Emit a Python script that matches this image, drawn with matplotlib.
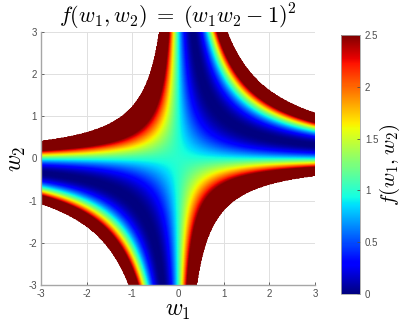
import numpy as np
import matplotlib
matplotlib.use("Agg")
import matplotlib.pyplot as plt

plt.rcParams['mathtext.fontset'] = 'cm'
plt.rcParams['font.family'] = ['Liberation Sans', 'DejaVu Sans']

# grid and display settings
w_lim = [-3, 3]
n_pts = 401
f_cut = 5.0          # values above this are left blank (white)
c_lim = [0, 2.5]
xticks = [-3, -2, -1, 0, 1, 2, 3]
yticks = [-3, -2, -1, 0, 1, 2, 3]
cticks = [0, 0.5, 1, 1.5, 2, 2.5]

w1 = np.linspace(w_lim[0], w_lim[1], n_pts)
w2 = np.linspace(w_lim[0], w_lim[1], n_pts)
W1, W2 = np.meshgrid(w1, w2)
F = (W1 * W2 - 1) ** 2
F = np.ma.masked_where(F > f_cut, F)

fig = plt.figure(figsize=(4.05, 3.29), dpi=100)
ax = fig.add_axes([0.101, 0.134, 0.677, 0.769])
cax = fig.add_axes([0.842, 0.106, 0.047, 0.788])

im = ax.pcolormesh(W1, W2, F, cmap='jet', vmin=c_lim[0], vmax=c_lim[1],
                   shading='gouraud', zorder=2)
ax.set_xlim(w_lim)
ax.set_ylim(w_lim)
ax.set_xticks(xticks)
ax.set_yticks(yticks)
ax.set_xticklabels([str(t) for t in xticks])
ax.set_yticklabels([str(t) for t in yticks])
ax.grid(True, color='0.88', linewidth=0.7, zorder=0)
ax.set_axisbelow(True)
ax.tick_params(direction='in', length=2.5, labelsize=7, colors='0.3',
               width=0.6, pad=3)
for s in ['top', 'right']:
    ax.spines[s].set_visible(False)
for s in ['left', 'bottom']:
    ax.spines[s].set_color('0.65')
    ax.spines[s].set_linewidth(1.0)

ax.set_title(r'$f(w_1,w_2)\;=\;(w_1 w_2 - 1)^2$', fontsize=16, pad=3)
ax.set_xlabel(r'$w_1$', fontsize=17, labelpad=1)
ax.set_ylabel(r'$w_2$', fontsize=17, labelpad=0)

cb = fig.colorbar(im, cax=cax, ticks=cticks)
cb.ax.set_yticklabels([f'{t:g}' for t in cticks])
cb.ax.tick_params(direction='in', length=2.5, labelsize=7, colors='0.3', width=0.6)
cb.outline.set_edgecolor('0.65')
cb.outline.set_linewidth(0.6)
cb.set_label(r'$f(w_1,w_2)$', fontsize=15, labelpad=0)

fig.savefig('out.png', dpi=100)
